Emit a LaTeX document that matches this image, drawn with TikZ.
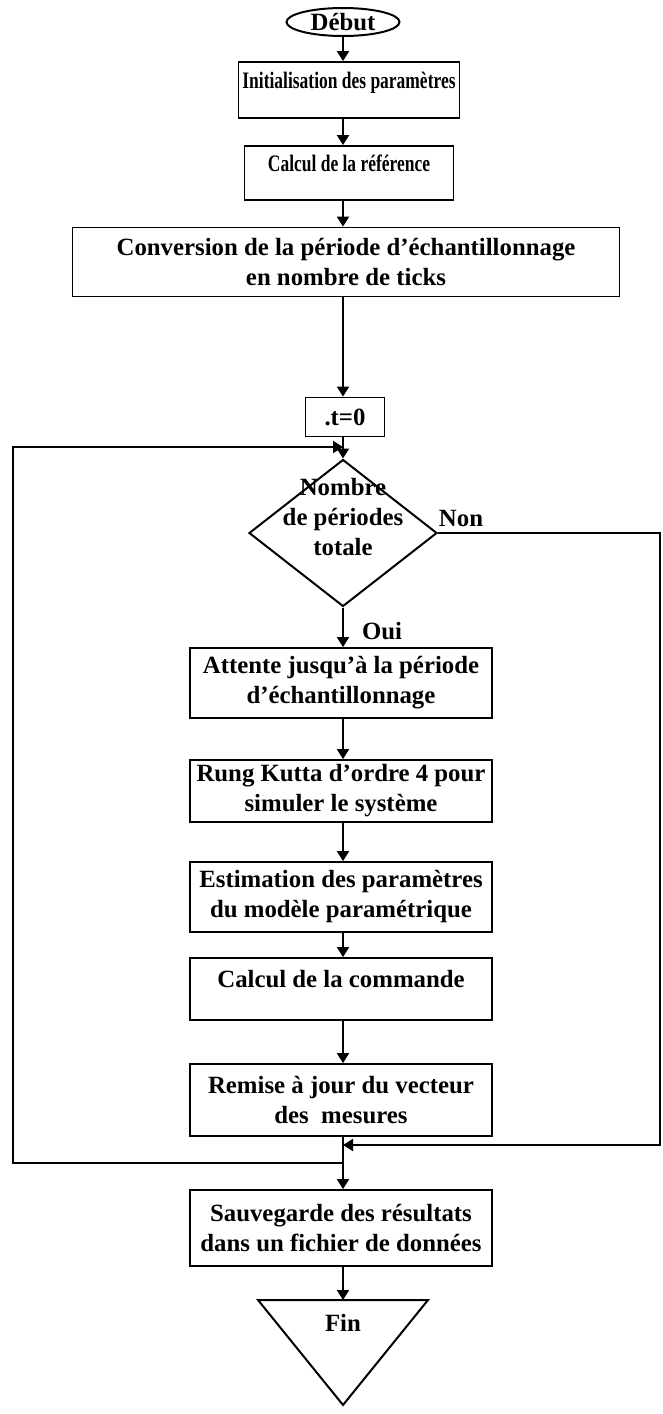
\documentclass[tikz,border=0pt]{standalone}
\usepackage{fontspec}
\setmainfont{Liberation Serif}
\newfontfamily\narrowfont{Liberation Serif}[FakeStretch=0.74]
\usetikzlibrary{shapes.geometric,arrows.meta}

\begin{document}
\begin{tikzpicture}[
  x=0.5pt, y=-0.5pt,
  font=\fontsize{12.4}{15}\selectfont\bfseries,
  box/.style={rectangle, draw, line width=0.9pt, minimum width=151pt, minimum height=35pt, align=center, inner sep=2pt},
  upper/.style={text depth=10pt},
  narrow/.style={font=\fontsize{11.8}{15}\selectfont\narrowfont\bfseries},
  arrow/.style={line width=1pt, -{Triangle[length=5pt,width=6pt]}},
]
  \useasboundingbox (0,0) rectangle (663,1414);

  \node[ellipse, draw, line width=1pt, minimum width=56.5pt, minimum height=14pt, inner sep=0pt] (debut) at (343,22) {Début};

  \node[box, narrow, upper, minimum width=104.5pt, minimum height=28pt] (init) at (349,90) {Initialisation des paramètres};
  \node[box, narrow, upper, minimum width=104.5pt, minimum height=27pt] (calcref) at (349,173) {Calcul de la référence};
  \node[box, minimum width=273.5pt, minimum height=34.5pt] (conversion) at (346,262) {
    Conversion de la période d'échantillonnage\\
    en nombre de ticks
  };
  \node[box, minimum width=39.5pt, minimum height=19.5pt] (tzero) at (345,417) {.t=0};

  \node[diamond, draw, line width=1pt, minimum width=94pt, minimum height=73.5pt, inner sep=0pt] (test) at (343,533) {};
  \node[align=center] (testtext) at (343,517) {Nombre\\de périodes\\totale};
  \node (non) at (461,518) {Non};
  \node (oui) at (382,631) {Oui};

  \node[box] (attente) at (341,683) {
    Attente jusqu'à la période\\
    d’échantillonnage
  };
  \node[box, minimum height=31pt] (rungekutta) at (341,791) {
    Rung Kutta d’ordre 4 pour\\
    simuler le système
  };
  \node[box] (estimation) at (341,897) {
    Estimation des paramètres\\
    du modèle paramétrique
  };
  \node[box, upper, minimum height=31pt] (commande) at (341,989) {Calcul de la commande};
  \node[box, minimum height=36pt] (miseajour) at (341,1100) {
    Remise à jour du vecteur\\
    des~~mesures
  };
  \node[box, minimum height=38pt] (sauvegarde) at (341,1228) {
    Sauvegarde des résultats\\
    dans un fichier de données
  };

  \draw[line width=1pt] (258,1300) -- (428,1300) -- (343,1405) -- cycle;
  \coordinate (fintop) at (343,1300);
  \node (fin) at (343,1323) {Fin};

  \coordinate (axe) at (343,0);
  \coordinate (loopin) at (343,447);
  \coordinate (retour) at (343,1163);
  \coordinate (join) at (343,1145);

  \draw[arrow] (debut) -- (init.north -| axe);
  \draw[arrow] (init.south -| axe) -- (calcref.north -| axe);
  \draw[arrow] (calcref.south -| axe) -- (conversion.north -| axe);
  \draw[arrow] (conversion.south -| axe) -- (tzero.north -| axe);
  \draw[arrow] (tzero.south -| axe) -- (test);
  \draw[arrow] (test) -- (attente.north -| axe);
  \draw[arrow] (attente.south -| axe) -- (rungekutta.north -| axe);
  \draw[arrow] (rungekutta.south -| axe) -- (estimation.north -| axe);
  \draw[arrow] (estimation.south -| axe) -- (commande.north -| axe);
  \draw[arrow] (commande.south -| axe) -- (miseajour.north -| axe);

  % boucle de retour vers le test
  \draw[arrow] (miseajour.south -| axe) -- (retour) -- (13,1163) -- (13,447) -- (loopin);
  % sortie Non
  \draw[arrow] (test.east) -- (660,533) -- (660,1145) -- (join);
  \draw[arrow] (join) -- (sauvegarde.north -| axe);
  \draw[arrow] (sauvegarde.south -| axe) -- (fintop);
\end{tikzpicture}
\end{document}
